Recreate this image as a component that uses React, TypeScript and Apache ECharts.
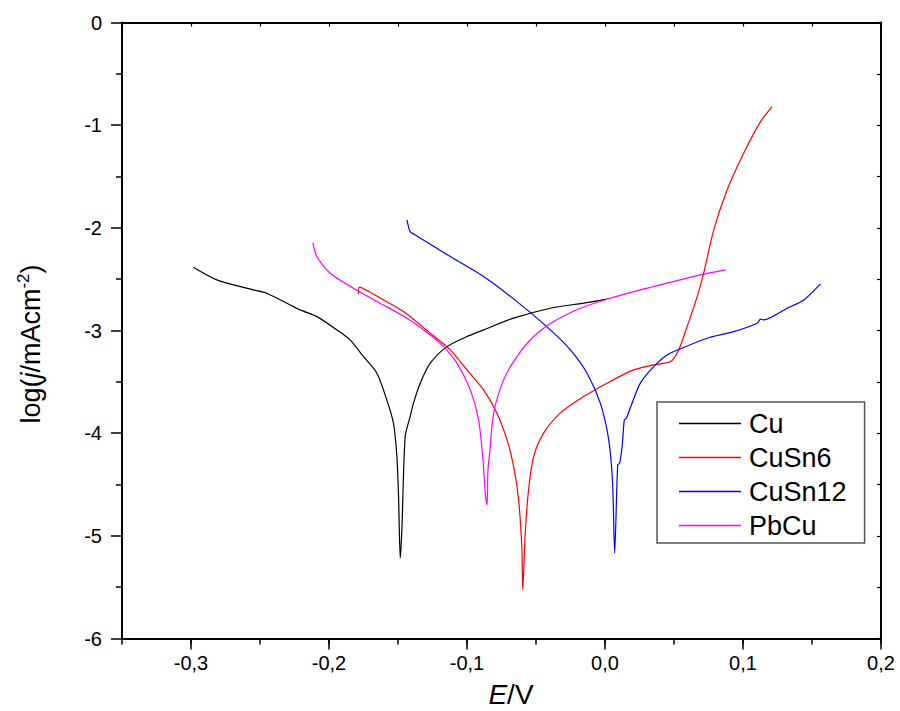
import React, { useEffect, useRef } from "react";
import * as echarts from "echarts";

// Potential (V) and log(j)
const cuE = [-0.2983, -0.2813, -0.2548, -0.2451, -0.2209, -0.2088, -0.1943, -0.1847, -0.175, -0.1653, -0.1581, -0.1533, -0.1508, -0.1496, -0.1484, -0.1472, -0.1448, -0.1412, -0.1388, -0.1339, -0.1266, -0.1145, -0.1, -0.088, -0.0662, -0.0396, -0.0155, 0.0015];
const cuLog = [-2.384, -2.507, -2.605, -2.637, -2.799, -2.865, -2.994, -3.092, -3.254, -3.416, -3.676, -3.903, -4.228, -4.617, -5.217, -4.942, -4.033, -3.838, -3.708, -3.513, -3.318, -3.157, -3.059, -2.994, -2.88, -2.783, -2.734, -2.695];

const cuSn6E = [-0.1786, -0.1781, -0.1605, -0.146, -0.1266, -0.1121, -0.1, -0.088, -0.0783, -0.071, -0.0662, -0.0626, -0.0602, -0.0596, -0.0578, -0.0554, -0.0517, -0.0445, -0.0324, -0.0155, 0.0015, 0.0208, 0.0353, 0.0474, 0.0534, 0.0595, 0.0668, 0.0715, 0.0788, 0.0885, 0.1005, 0.1127, 0.1211];
const cuSn6Log = [-2.644, -2.578, -2.702, -2.816, -3.026, -3.189, -3.384, -3.578, -3.805, -4.065, -4.325, -4.649, -5.136, -5.526, -4.974, -4.552, -4.228, -4.0, -3.805, -3.644, -3.513, -3.384, -3.335, -3.303, -3.189, -2.962, -2.67, -2.442, -2.02, -1.631, -1.274, -0.966, -0.82];

const cuSn12E = [-0.1435, -0.1412, -0.1375, -0.1121, -0.088, -0.0638, -0.0396, -0.0251, -0.013, -0.0034, 0.0027, 0.0055, 0.007, 0.0092, 0.0106, 0.0124, 0.014, 0.0155, 0.0196, 0.0256, 0.0353, 0.045, 0.057, 0.074, 0.0933, 0.1103, 0.1127, 0.115, 0.132, 0.1441, 0.1562];
const cuSn12Log = [-1.923, -2.037, -2.069, -2.28, -2.475, -2.719, -2.994, -3.189, -3.416, -3.708, -4.065, -4.487, -5.168, -4.309, -4.292, -4.13, -3.871, -3.854, -3.708, -3.513, -3.352, -3.238, -3.165, -3.075, -3.011, -2.929, -2.89, -2.897, -2.783, -2.702, -2.546];

const pbCuE = [-0.2117, -0.2088, -0.1992, -0.1823, -0.1629, -0.1435, -0.1266, -0.117, -0.1073, -0.0976, -0.0916, -0.0884, -0.0868, -0.0855, -0.0848, -0.0836, -0.0807, -0.0735, -0.0638, -0.0517, -0.0372, -0.0179, 0.0015, 0.0208, 0.045, 0.0691, 0.0873];
const pbCuLog = [-2.144, -2.28, -2.442, -2.588, -2.734, -2.88, -3.043, -3.157, -3.318, -3.578, -3.871, -4.26, -4.584, -4.698, -4.357, -4.195, -3.805, -3.481, -3.254, -3.059, -2.913, -2.783, -2.695, -2.621, -2.539, -2.459, -2.41];

const seriesNames = ["Cu", "CuSn6", "CuSn12", "PbCu"];
const seriesColors = ["#000000", "#ff0000", "#0000ff", "#ff00ff"];
const majorX = [-0.3, -0.2, -0.1, 0, 0.1, 0.2];

const zip = (xs: number[], ys: number[]) => xs.map((x, i) => [x, ys[i]]);
const FONT = "Liberation Sans, Arial, sans-serif";

export default function App() {
  const ref = useRef<HTMLDivElement>(null);
  useEffect(() => {
    if (!ref.current) return;
    const chart = echarts.init(ref.current, null, { renderer: "svg" });
    const datasets = [zip(cuE, cuLog), zip(cuSn6E, cuSn6Log), zip(cuSn12E, cuSn12Log), zip(pbCuE, pbCuLog)];
    const axisLine = { show: true, onZero: false, lineStyle: { color: "#000", width: 2 } };
    chart.setOption({
      animation: false,
      backgroundColor: "#fff",
      textStyle: { fontFamily: FONT },
      grid: { left: 122, right: 19, top: 22.5, bottom: 72.5, containLabel: false },
      graphic: [
        {
          type: "text",
          x: 31,
          y: 344,
          rotation: Math.PI / 2,
          style: {
            text: "{a|log(}{i|j}{a|/mAcm}{s|-2}{a|)}",
            align: "center",
            verticalAlign: "middle",
            rich: {
              a: { fontSize: 27, fontFamily: FONT, fill: "#000" },
              i: { fontSize: 27, fontStyle: "italic", fontFamily: FONT, fill: "#000" },
              s: { fontSize: 17, fontFamily: FONT, fill: "#000", verticalAlign: "top", padding: [0, 0, 16, 0] },
            },
          },
        },
        {
          type: "text",
          x: 511,
          y: 694,
          style: {
            text: "{i|E}{a|/V}",
            align: "center",
            verticalAlign: "middle",
            rich: {
              i: { fontSize: 28, fontStyle: "italic", fontFamily: FONT, fill: "#000" },
              a: { fontSize: 28, fontFamily: FONT, fill: "#000" },
            },
          },
        },
      ],
      legend: {
        orient: "vertical",
        left: 657,
        top: 402,
        icon: "rect",
        itemWidth: 62,
        itemHeight: 1.5,
        itemGap: 7,
        padding: [8, 18, 4, 22],
        borderColor: "#555",
        borderWidth: 1.5,
        itemStyle: { borderWidth: 0 },
        lineStyle: { width: 0 },
        textStyle: { fontSize: 27, lineHeight: 27, color: "#000", fontFamily: FONT, padding: [0, 0, 0, 3] },
        data: seriesNames,
      },
      xAxis: [
        {
          type: "value", position: "bottom", min: -0.35, max: 0.2, interval: 0.05,
          axisLine, splitLine: { show: false },
          axisTick: { show: true, length: 6, inside: false, lineStyle: { color: "#000", width: 1.5 } },
          axisLabel: { show: false },
        },
        {
          type: "value", position: "bottom", min: -0.35, max: 0.2, interval: 0.05,
          axisLine: { show: false, onZero: false }, splitLine: { show: false },
          axisTick: { show: true, length: 11, inside: false, customValues: majorX, lineStyle: { color: "#000", width: 1.5 } },
          axisLabel: { show: true, customValues: majorX, fontSize: 20, color: "#000", margin: 14, fontFamily: FONT, formatter: (v: number) => v.toFixed(1).replace(".", ",") },
        },
        {
          type: "value", position: "top", min: -0.35, max: 0.2, interval: 0.05,
          axisLine, splitLine: { show: false },
          axisTick: { show: true, length: 4, inside: true, lineStyle: { color: "#000", width: 1.2 } },
          axisLabel: { show: false },
        },
      ],
      yAxis: [
        {
          type: "value", position: "left", min: -6, max: 0, interval: 1,
          axisLine, splitLine: { show: false },
          axisTick: { show: true, length: 11, inside: false, lineStyle: { color: "#000", width: 1.5 } },
          minorTick: { show: true, splitNumber: 2, length: 6, lineStyle: { color: "#000", width: 1.5 } },
          minorSplitLine: { show: false },
          axisLabel: { fontSize: 20, color: "#000", margin: 20, fontFamily: FONT },
        },
        {
          type: "value", position: "right", min: -6, max: 0, interval: 0.5,
          axisLine, splitLine: { show: false },
          axisTick: { show: true, length: 4, inside: true, lineStyle: { color: "#000", width: 1.2 } },
          axisLabel: { show: false },
        },
      ],
      series: seriesNames.map((n, i) => ({
        name: n,
        type: "line",
        xAxisIndex: 0,
        yAxisIndex: 0,
        data: datasets[i],
        symbol: "none",
        showSymbol: false,
        smooth: 0.25,
        lineStyle: { color: seriesColors[i], width: 1.2 },
        itemStyle: { color: seriesColors[i] },
      })),
    });
    return () => chart.dispose();
  }, []);
  return <div ref={ref} style={{ position: "absolute", left: 0, top: 0, width: 900, height: 711 }} />;
}
